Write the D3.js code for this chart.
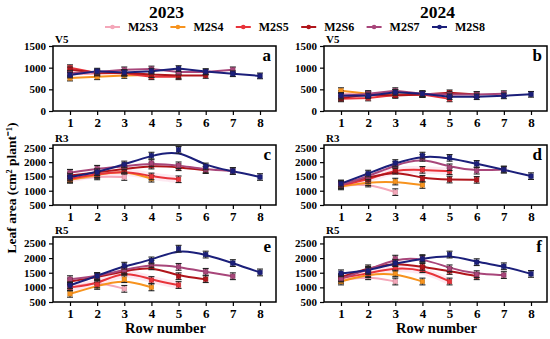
<!DOCTYPE html>
<html><head><meta charset="utf-8">
<script src="https://cdn.jsdelivr.net/npm/d3@7"></script>
<style>
body{margin:0;background:#fff}
svg{display:block}
text{font-family:"Liberation Serif","Times New Roman",serif !important;font-weight:bold;fill:#000}
</style>
</head><body>
<svg id="chart" width="550" height="339"></svg>
<script>
// ---- data ----
const rowNumbers = [1,2,3,4,5,6,7,8];
const seriesNames = ["M2S3","M2S4","M2S5","M2S6","M2S7","M2S8"];
const seriesColors = ["#f4a7b9","#f7931e","#e8333a","#b0151b","#a8467a","#1b1f7a"];
const years = ["2023","2024"];
const stages = ["V5","R3","R5"];
const panelLetters = ["a","b","c","d","e","f"];
const yTicksV5 = [0,500,1000,1500];
const yTicksR = [500,1000,1500,2000,2500];

// each panel: one array per series (M2S3..M2S8), values for rows 1..n
const valuesA = [ // 2023 V5
  [850, 860, 880],
  [760, 790, 820, 830],
  [1000, 880, 870, 790, 790],
  [950, 880, 880, 840, 820, 820],
  [870, 900, 950, 970, 900, 900, 950],
  [830, 920, 890, 920, 980, 910, 860, 810]
];
const valuesB = [ // 2024 V5
  [400, 380, 430],
  [470, 400, 380, 390],
  [280, 300, 370, 380, 280],
  [300, 380, 360, 380, 420, 380],
  [340, 400, 470, 400, 380, 380, 400],
  [360, 350, 430, 400, 330, 330, 350, 385]
];
const valuesC = [ // 2023 R3
  [1400, 1500, 1480],
  [1380, 1550, 1720, 1420],
  [1420, 1580, 1700, 1500, 1400],
  [1530, 1640, 1760, 1880, 1820, 1720],
  [1630, 1770, 1850, 1970, 1890, 1740, 1690],
  [1480, 1650, 1920, 2230, 2430, 1850, 1690, 1480]
];
const valuesD = [ // 2024 R3
  [1180, 1250, 950],
  [1150, 1300, 1320, 1200],
  [1200, 1380, 1750, 1730, 1680],
  [1250, 1450, 1700, 1420, 1390, 1380],
  [1200, 1500, 1900, 2150, 1820, 1700, 1740],
  [1250, 1600, 1970, 2230, 2150, 1940, 1740, 1510]
];
const valuesE = [ // 2023 R5
  [1000, 1200, 950],
  [780, 1050, 1280, 1000],
  [1000, 1100, 1580, 1250, 1080],
  [1200, 1350, 1550, 1720, 1380, 1280],
  [1280, 1380, 1600, 1800, 1700, 1530, 1380],
  [1070, 1390, 1740, 1920, 2320, 2120, 1830, 1510]
];
const valuesF = [ // 2024 R5
  [1250, 1380, 1200],
  [1200, 1450, 1480, 1200],
  [1320, 1480, 1680, 1620, 1200],
  [1350, 1650, 1850, 1700, 1560, 1380],
  [1300, 1600, 1980, 2000, 1650, 1450, 1420],
  [1480, 1560, 1830, 1970, 2120, 1860, 1720, 1460]
];
const errorV5 = 65;
const errorR = 115;

// ---- layout ----
const FONT = '"Liberation Serif", "Times New Roman", serif';
const svg = d3.select("#chart");
const colX = [[53, 276], [324, 547]];
const rowY = [[46, 111, [0, 1500], yTicksV5, errorV5, false],
              [145, 205, [500, 2600], yTicksR, errorR, true],
              [237, 302, [500, 2720], yTicksR, errorR, true]];
const panelValues = [valuesA, valuesB, valuesC, valuesD, valuesE, valuesF];

// titles
years.forEach((yr, i) => {
  svg.append("text").attr("x", (colX[i][0] + colX[i][1]) / 2 + 2).attr("y", 18)
    .attr("text-anchor", "middle").style("font-size", "17.5px").text(yr);
});

// legend
seriesNames.forEach((name, i) => {
  const x0 = 105 + i * 65.4;
  const g = svg.append("g");
  g.append("line").attr("x1", x0).attr("x2", x0 + 15).attr("y1", 27).attr("y2", 27)
    .attr("stroke", seriesColors[i]).attr("stroke-width", 2);
  g.append("circle").attr("cx", x0 + 7.5).attr("cy", 27).attr("r", 2.3).attr("fill", seriesColors[i]);
  g.append("text").attr("x", x0 + 23).attr("y", 31).style("font-size", "12px").text(name);
});

// panels
for (let r = 0; r < 3; r++) {
  for (let c = 0; c < 2; c++) {
    const [left, right] = colX[c];
    const [top, bottom, dom, ticks, err, smooth] = rowY[r];
    const idx = r * 2 + c;
    const vals = panelValues[idx];
    const x = d3.scaleLinear().domain([1, 8]).range([left + 17, right - 16]);
    const y = d3.scaleLinear().domain(dom).range([bottom, top]);
    const g = svg.append("g");

    // stage label & letter
    g.append("text").attr("x", left + 2).attr("y", top - 3).style("font-size", "11px").text(stages[r]);
    g.append("text").attr("x", right - 5).attr("y", top + 15).attr("text-anchor", "end")
      .style("font-size", "17px").text(panelLetters[idx]);

    const curve = smooth ? d3.curveBasis : d3.curveLinear;

    // pink band (around M2S5) for reproductive stages
    if (smooth) {
      const bandVals = vals[2];
      const area = d3.area().x((d, i) => x(i + 1)).y0(d => y(d - 130)).y1(d => y(d + 130)).curve(curve);
      g.append("path").datum(bandVals).attr("d", area).attr("fill", "#f7b6d2").attr("opacity", 0.3);
    }

    // lines
    vals.forEach((sv, si) => {
      const line = d3.line().x((d, i) => x(i + 1)).y(d => y(d)).curve(curve);
      g.append("path").datum(sv).attr("d", line).attr("fill", "none")
        .attr("stroke", seriesColors[si]).attr("stroke-width", 2);
    });
    // error bars & markers
    vals.forEach((sv, si) => {
      sv.forEach((v, i) => {
        const cx = x(i + 1);
        g.append("line").attr("x1", cx).attr("x2", cx).attr("y1", y(v - err)).attr("y2", y(v + err))
          .attr("stroke", "#222").attr("stroke-width", 1.1);
        [v - err, v + err].forEach(e => g.append("line").attr("x1", cx - 3).attr("x2", cx + 3)
          .attr("y1", y(e)).attr("y2", y(e)).attr("stroke", "#222").attr("stroke-width", 1.1));
        g.append("rect").attr("x", cx - 2.2).attr("y", y(v) - 2.2).attr("width", 4.4).attr("height", 4.4)
          .attr("fill", seriesColors[si]).attr("stroke", d3.color(seriesColors[si]).darker(0.6)).attr("stroke-width", 0.6);
      });
    });

    // axes
    const xAxis = d3.axisBottom(x).tickValues(rowNumbers).tickFormat(d3.format("d")).tickSize(4).tickSizeOuter(0);
    const ga = svg.append("g").attr("transform", `translate(0,${bottom})`).call(xAxis);
    ga.attr("font-family", FONT);
    ga.select(".domain").remove();
    ga.selectAll("line").attr("stroke", "#000").attr("stroke-width", 1.2);
    ga.selectAll("text").style("font-size", "13px").style("font-family", FONT);
    const yAxis = d3.axisLeft(y).tickValues(ticks).tickFormat(d3.format("d")).tickSize(4).tickSizeOuter(0);
    const gy = svg.append("g").attr("transform", `translate(${left},0)`).call(yAxis);
    gy.attr("font-family", FONT);
    gy.select(".domain").remove();
    gy.selectAll("line").attr("stroke", "#000").attr("stroke-width", 1.2);
    gy.selectAll("text").style("font-size", "11px").style("font-family", FONT);

    // frame
    svg.append("rect").attr("x", left).attr("y", top).attr("width", right - left).attr("height", bottom - top)
      .attr("fill", "none").attr("stroke", "#000").attr("stroke-width", 1.5);

    if (r === 2) {
      svg.append("text").attr("x", (left + right) / 2 + 1).attr("y", 333).attr("text-anchor", "middle")
        .style("font-size", "14.5px").text("Row number");
    }
  }
}

// y-axis label
svg.append("text").attr("transform", "translate(16,188) rotate(-90)").attr("text-anchor", "middle")
  .style("font-size", "13.5px").text("Leaf area (cm\u00B2 plant\u207B\u00B9)");
</script>
</body></html>
